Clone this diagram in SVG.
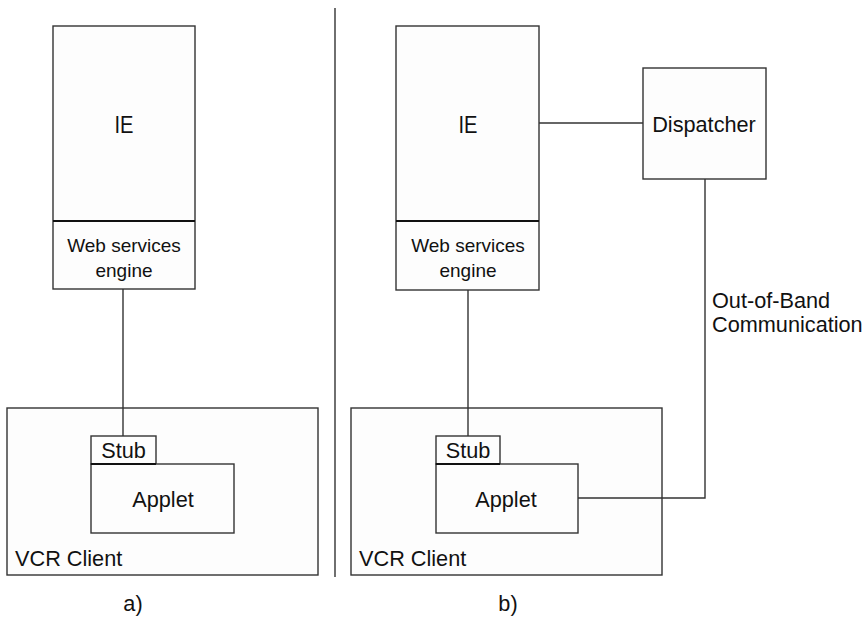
<svg xmlns="http://www.w3.org/2000/svg" width="868" height="619" viewBox="0 0 868 619">
<style>
.box{fill:#fdfdfd;stroke:#333;stroke-width:1.4}
.div{stroke:#111;stroke-width:2}
.ln{fill:none;stroke:#333;stroke-width:1.4}
text{font-family:"Liberation Sans",Arial,sans-serif;fill:#111;font-size:21.7px}
.m{text-anchor:middle}
.s{font-size:19px}
.ie{font-size:24px}
</style>
<rect width="868" height="619" fill="#fff"/>
<g id="vcr-a"><rect class="box" x="7" y="408" width="311" height="167"/><text x="15" y="566">VCR Client</text></g>
<g id="ie-a"><rect class="box" x="53" y="26" width="142" height="263"/><line class="div" x1="53" y1="221" x2="195" y2="221"/><text class="m ie" x="124" y="133" textLength="19" lengthAdjust="spacingAndGlyphs">IE</text></g>
<g id="wse-a"><text class="m s" x="124" y="252">Web services</text><text class="m s" x="124" y="277">engine</text></g>
<g id="stub-a"><rect class="box" x="91" y="436" width="65" height="28"/><text class="m" x="123.5" y="458">Stub</text></g>
<g id="applet-a"><rect class="box" x="91" y="464" width="143" height="69"/><line class="div" x1="91" y1="464" x2="156" y2="464"/><text class="m" x="163" y="507">Applet</text></g>
<g id="label-a"><text class="m" x="133" y="611">a)</text></g>

<g id="vcr-b"><rect class="box" x="351" y="408" width="311" height="167"/><text x="359" y="566">VCR Client</text></g>
<g id="ie-b"><rect class="box" x="396" y="26" width="143" height="264"/><line class="div" x1="396" y1="221" x2="539" y2="221"/><text class="m ie" x="468" y="133" textLength="19" lengthAdjust="spacingAndGlyphs">IE</text></g>
<g id="wse-b"><text class="m s" x="468" y="252">Web services</text><text class="m s" x="468" y="277">engine</text></g>
<g id="dispatcher"><rect class="box" x="643" y="68" width="123" height="111"/><text class="m" x="704" y="132">Dispatcher</text></g>
<g id="oob"><text x="712" y="308">Out-of-Band</text><text x="712" y="332">Communication</text></g>
<g id="stub-b"><rect class="box" x="436" y="436" width="64" height="28"/><text class="m" x="468" y="458">Stub</text></g>
<g id="applet-b"><rect class="box" x="436" y="464" width="142" height="69"/><line class="div" x1="436" y1="464" x2="500" y2="464"/><text class="m" x="506" y="507">Applet</text></g>
<g id="label-b"><text class="m" x="508" y="611">b)</text></g>

<g id="connectors">
<line class="ln" x1="335" y1="8" x2="335" y2="577"/>
<line class="ln" x1="123" y1="289" x2="123" y2="436"/>
<line class="ln" x1="468" y1="290" x2="468" y2="436"/>
<line class="ln" x1="539" y1="123" x2="643" y2="123"/>
<polyline class="ln" points="578,498 705,498 705,179"/>
</g>
</svg>
